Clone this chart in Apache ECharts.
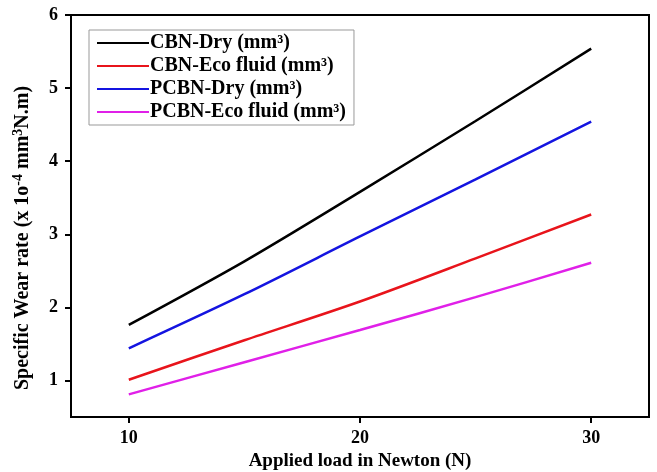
<!DOCTYPE html>
<html>
<head>
<meta charset="utf-8">
<script src="https://cdn.jsdelivr.net/npm/echarts@6/dist/echarts.min.js"></script>
<style>html,body{margin:0;padding:0;background:#fff}#c{width:657px;height:472px}</style>
</head>
<body>
<div id="c"></div>
<script>
var loads = [10, 15, 20, 25, 30];
var cbnDry = [1.76, 2.63, 3.58, 4.55, 5.54];
var cbnEco = [1.01, 1.55, 2.08, 2.67, 3.27];
var pcbnDry = [1.44, 2.18, 2.97, 3.75, 4.54];
var pcbnEco = [0.81, 1.25, 1.69, 2.14, 2.61];
var seriesNames = ['CBN-Dry (mm\u00b3)', 'CBN-Eco fluid (mm\u00b3)', 'PCBN-Dry (mm\u00b3)', 'PCBN-Eco fluid (mm\u00b3)'];
var xTicks = [10, 20, 30];
var yTicks = [1, 2, 3, 4, 5, 6];

function pairs(ys) { return loads.map(function (x, i) { return [x, ys[i]]; }); }
var colors = ['#000000', '#e8141b', '#1414e0', '#e020e8'];
var datas = [cbnDry, cbnEco, pcbnDry, pcbnEco];
var serif = '"Liberation Serif", "DejaVu Serif", serif';

var chart = echarts.init(document.getElementById('c'), null, { renderer: 'canvas' });
chart.setOption({
  animation: false,
  backgroundColor: '#fff',
  grid: { left: 71, right: 8, top: 15, bottom: 55, outerBoundsMode: 'none', containLabel: false, show: true, borderColor: '#000', borderWidth: 2, backgroundColor: 'transparent' },
  legend: {
    orient: 'vertical', left: 89, top: 30,
    itemWidth: 52, itemHeight: 2, itemGap: 3,
    padding: [3, 8, 3, 8],
    borderColor: '#999', borderWidth: 1,
    icon: 'rect',
    textStyle: { fontFamily: serif, fontWeight: 'bold', fontSize: 20, color: '#000', padding: [0, 0, 0, -4] },
    data: seriesNames
  },
  xAxis: {
    type: 'value', min: 7.5, max: 32.5,
    name: 'Applied load in Newton (N)', nameLocation: 'middle', nameGap: 34,
    nameTextStyle: { fontFamily: serif, fontWeight: 'bold', fontSize: 19, color: '#000' },
    axisLine: { lineStyle: { color: '#000', width: 2 } },
    axisTick: { show: true, length: 6, lineStyle: { color: '#000', width: 2 }, customValues: xTicks },
    axisLabel: { fontFamily: serif, fontWeight: 'bold', fontSize: 18, color: '#000', margin: 12, customValues: xTicks },
    splitLine: { show: false }
  },
  yAxis: {
    type: 'value', min: 0.5, max: 6,
    name: '{n|Specific Wear rate (x 1o}{s|-4}{n| mm}{s|3}{n|N.m)}',
    nameLocation: 'middle', nameGap: 36,
    nameTextStyle: {
      padding: [0, 44, 0, 0],
      rich: {
        n: { fontFamily: serif, fontWeight: 'bold', fontSize: 20, color: '#000' },
        s: { fontFamily: serif, fontWeight: 'bold', fontSize: 14, color: '#000', verticalAlign: 'top', padding: [0, 0, 10, 0] }
      }
    },
    axisLine: { lineStyle: { color: '#000', width: 2 } },
    axisTick: { show: true, length: 6, lineStyle: { color: '#000', width: 2 }, customValues: yTicks },
    axisLabel: { fontFamily: serif, fontWeight: 'bold', fontSize: 18, color: '#000', margin: 13, customValues: yTicks },
    splitLine: { show: false }
  },
  series: datas.map(function (d, i) {
    return {
      name: seriesNames[i], type: 'line', data: pairs(d), smooth: 0.3,
      symbol: 'none', color: colors[i],
      lineStyle: { width: 2.5, color: colors[i] }
    };
  })
});
</script>
</body>
</html>
